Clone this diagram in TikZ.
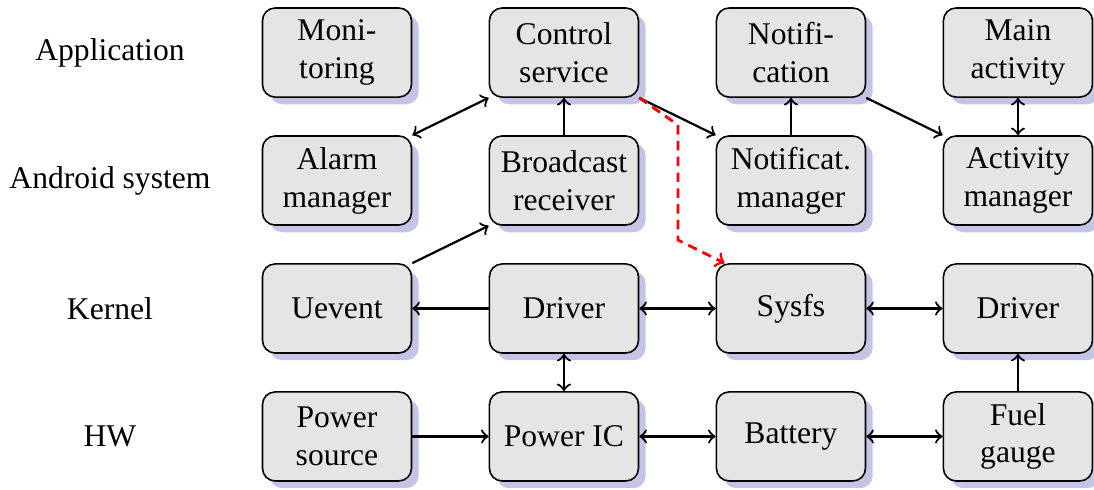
\documentclass[tikz,border=0pt]{standalone}
\usepackage{fontspec}
\setmainfont{Liberation Serif}
\usetikzlibrary{shadows}
\definecolor{shadowblue}{RGB}{196,196,230}

\begin{document}
\begin{tikzpicture}[node distance=1.423cm, >=to, auto]
        \tikzstyle{layer}=[align=center]
        \tikzstyle{block}=[draw, line width=0.5pt, rectangle, rounded corners=4pt, fill=black!10, minimum width=1.657cm, minimum height=0.99cm, align=center, drop shadow={fill=shadowblue, opacity=1}]
        \tikzstyle{link}=[line width=0.7pt]

        \useasboundingbox (-1.223,0.584) rectangle (10.942,-4.854);

        % layer names
        \node[layer] (app) {Application};
        \node[layer, below of=app] (sys) {Android system};
        \node[layer, below of=sys] (ker) {Kernel};
        \node[layer, below of=ker] (hw) {HW};

        % application
        \node[block, right of=app, xshift=1.101cm] (mon) {Moni-\\toring};
        \node[block, right of=mon, xshift=1.101cm] (ctrl) {Control\\service};
        \node[block, right of=ctrl, xshift=1.101cm] (notif) {Notifi-\\cation};
        \node[block, right of=notif, xshift=1.101cm] (main) {Main\\activity};

        % android system
        \node[block, right of=sys, xshift=1.101cm] (alarm) {Alarm\\manager};
        \node[block, right of=alarm, xshift=1.101cm] (bcast) {Broadcast\\receiver};
        \node[block, right of=bcast, xshift=1.101cm] (notifmgr) {Notificat.\\manager};
        \node[block, right of=notifmgr, xshift=1.101cm] (actmgr) {Activity\\manager};

        % kernel
        \node[block, right of=ker, xshift=1.101cm] (uevent) {Uevent};
        \node[block, right of=uevent, xshift=1.101cm] (drv) {Driver};
        \node[block, right of=drv, xshift=1.101cm] (sysfs) {Sysfs};
        \node[block, right of=sysfs, xshift=1.101cm] (fgdrv) {Driver};

        % hardware
        \node[block, right of=hw, xshift=1.101cm] (psrc) {Power\\source};
        \node[block, right of=psrc, xshift=1.101cm] (pic) {Power IC};
        \node[block, right of=pic, xshift=1.101cm] (bat) {Battery};
        \node[block, right of=bat, xshift=1.101cm] (fuel) {Fuel\\gauge};

        \draw[link, <->] (ctrl.south west) -- (alarm.north east);
        \draw[link, ->] (bcast) -- (ctrl);
        \draw[link, ->] (ctrl.south east) -- (notifmgr.north west);
        \draw[link, ->] (notifmgr) -- (notif);
        \draw[link, ->] (notif.south east) -- (actmgr.north west);
        \draw[link, <->] (main) -- (actmgr);
        \draw[link, ->] (uevent.north east) -- (bcast.south west);
        \draw[link, ->] (drv) -- (uevent);
        \draw[link, <->] (drv) -- (sysfs);
        \draw[link, <->] (sysfs) -- (fgdrv);
        \draw[link, <->] (drv) -- (pic);
        \draw[link, ->] (fuel) -- (fgdrv);
        \draw[link, ->] (psrc) -- (pic);
        \draw[link, <->] (pic) -- (bat);
        \draw[link, <->] (bat) -- (fuel);

        % read path through sysfs
        \coordinate (bend1) at (6.316,-0.806);
        \coordinate (bend2) at (6.316,-2.085);
        \draw[link, line width=0.9pt, ->, red, dash pattern=on 3pt off 2pt] (ctrl.south east) -- (bend1) -- (bend2) -- ([xshift=0.1cm]sysfs.north west);
    \end{tikzpicture}
\end{document}
